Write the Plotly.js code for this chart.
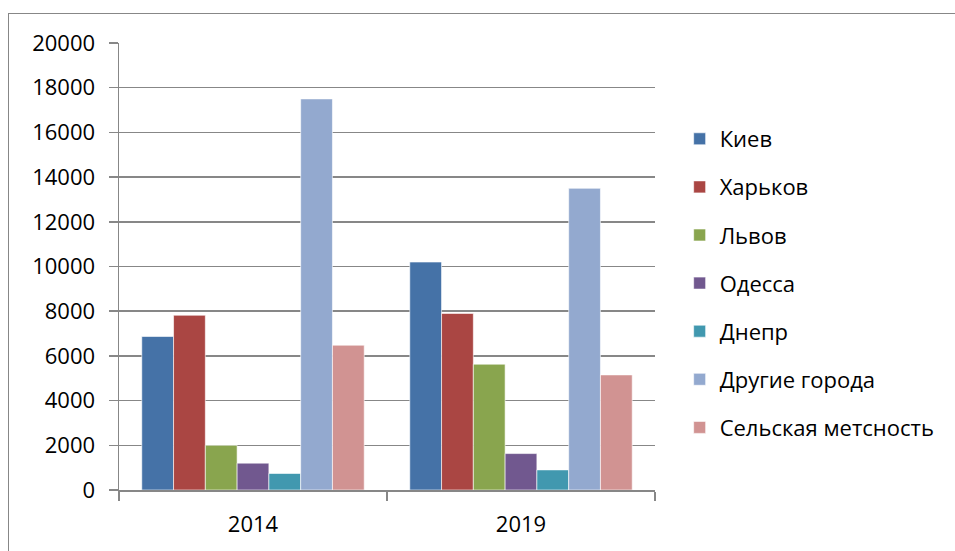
<!DOCTYPE html>
<html>
<head>
<meta charset="utf-8">
<script src="https://cdn.plot.ly/plotly-3.0.1.min.js"></script>
<style>
html,body{margin:0;padding:0;overflow:hidden;background:#fff;}
#chart{position:absolute;left:0;top:0;width:955px;height:551px;}
#frame{position:absolute;left:8px;top:13px;width:1000px;height:1000px;border:1.5px solid #878787;pointer-events:none;}
</style>
</head>
<body>
<div id="chart"></div>
<div id="frame"></div>
<script>
const years = ["2014", "2019"];
const seriesNames = ["Киев", "Харьков", "Львов", "Одесса", "Днепр", "Другие города", "Сельская метсность"];
const kiev = [6870, 10200];
const kharkiv = [7820, 7900];
const lviv = [2000, 5630];
const odessa = [1200, 1630];
const dnipro = [740, 900];
const otherCities = [17500, 13500];
const rural = [6480, 5150];
const colors = ["#4572A7", "#AA4643", "#89A54E", "#71588F", "#4198AF", "#93A9CF", "#D19392"];

const values = [kiev, kharkiv, lviv, odessa, dnipro, otherCities, rural];
const font = "'Open Sans', 'Noto Sans', sans-serif";
const fs = 22;

const traces = values.map((v, i) => ({
  type: "bar",
  name: seriesNames[i],
  x: years,
  y: v,
  legendgroup: "g" + i,
  marker: {color: colors[i], line: {color: "rgba(255,255,255,0.6)", width: 1}},
  hoverinfo: "x+y+name"
}));

const layout = {
  width: 955,
  height: 551,
  margin: {l: 119, r: 300, t: 43, b: 61},
  paper_bgcolor: "#fff",
  plot_bgcolor: "#fff",
  barmode: "group",
  bargap: 0.17,
  bargroupgap: 0,
  font: {family: font, size: fs, color: "#000"},
  showlegend: true,
  legend: {
    x: 1.046, xanchor: "left",
    y: 0.462, yanchor: "middle",
    font: {family: font, size: fs, color: "#000"},
    tracegroupgap: 16.5,
    bgcolor: "rgba(0,0,0,0)"
  },
  xaxis: {
    type: "category",
    showline: true,
    linecolor: "#878787",
    linewidth: 1.5,
    ticks: "outside",
    tickson: "boundaries",
    ticklen: 9,
    tickcolor: "#878787",
    tickwidth: 1.5,
    ticklabelstandoff: 14,
    showgrid: false,
    tickfont: {family: font, size: fs, color: "#000"}
  },
  yaxis: {
    range: [0, 20000],
    dtick: 2000,
    tick0: 0,
    showline: true,
    linecolor: "#878787",
    linewidth: 1.5,
    ticks: "outside",
    ticklen: 9,
    tickcolor: "#878787",
    tickwidth: 1.5,
    ticklabelstandoff: 9,
    showgrid: true,
    gridcolor: "#878787",
    gridwidth: 1.5,
    zeroline: false,
    tickformat: "d",
    tickfont: {family: font, size: fs, color: "#000"}
  }
};

Plotly.newPlot("chart", traces, layout, {displayModeBar: false, staticPlot: true});
</script>
</body>
</html>
